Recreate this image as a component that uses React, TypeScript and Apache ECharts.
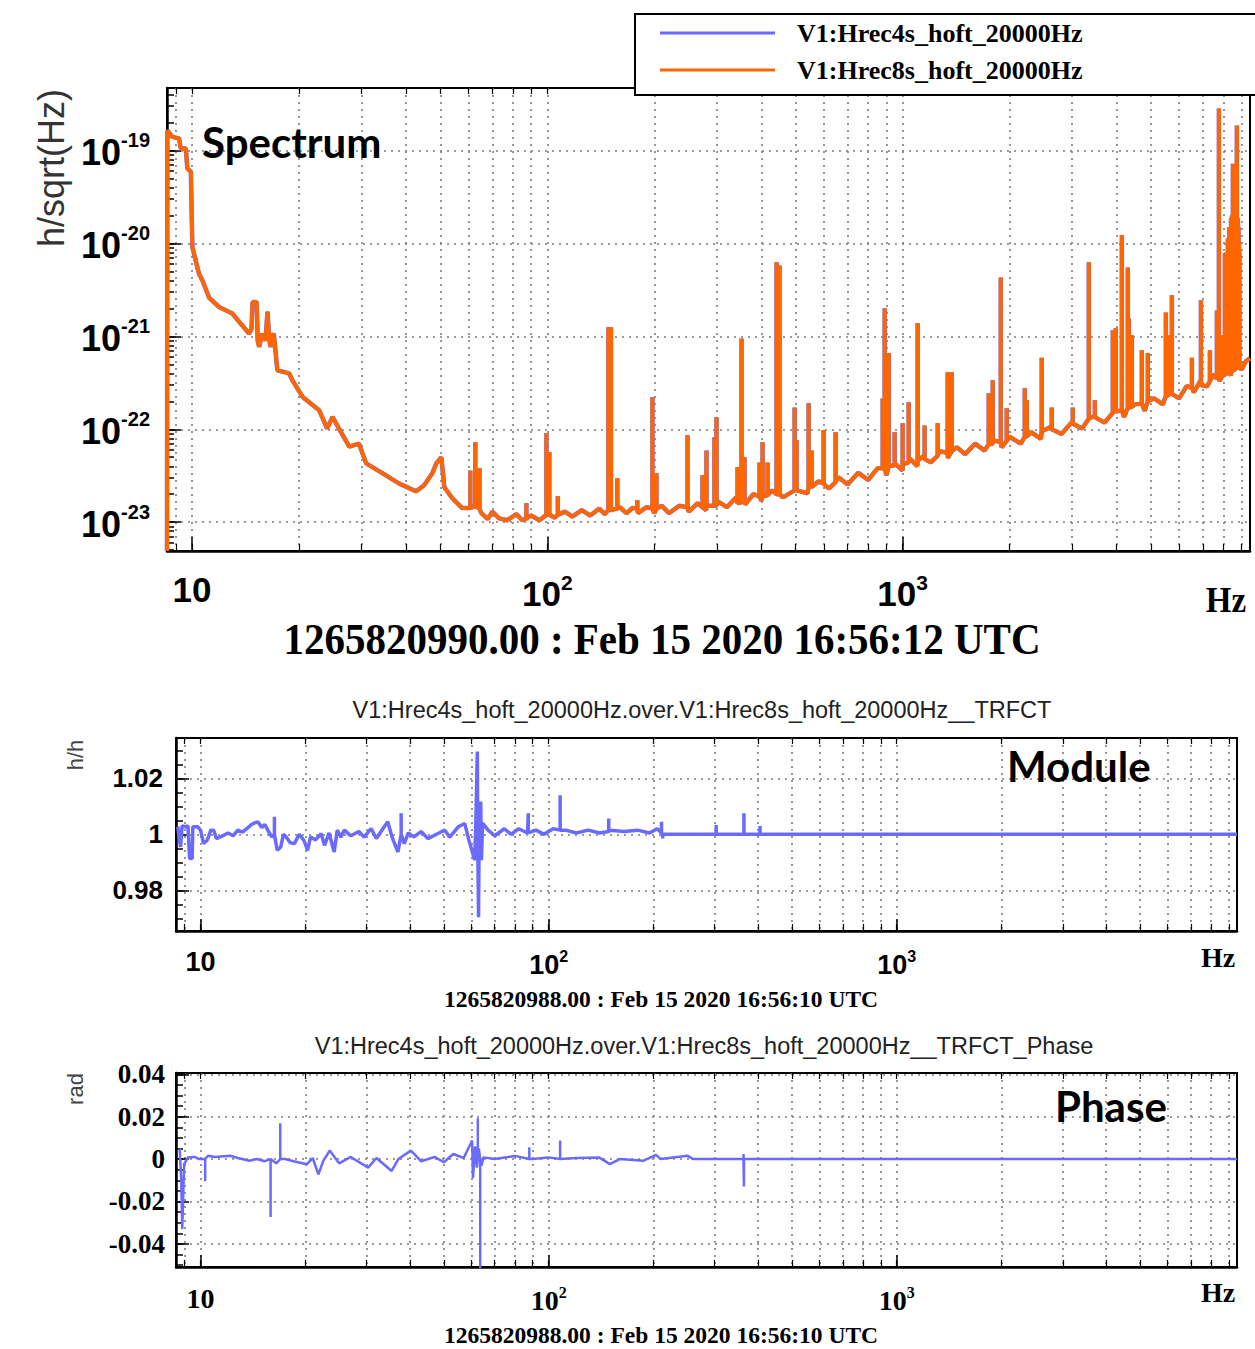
import React, { useEffect, useRef } from "react";
import * as echarts from "echarts";

// ---------- data ----------
const legendNames = ["V1:Hrec4s_hoft_20000Hz", "V1:Hrec8s_hoft_20000Hz"];

// noise floor of the 8 s spectrum: [frequency Hz, amplitude h/sqrt(Hz)]
const spectrumFloor8s: [number, number][] = [
  [8.5, 4.9e-24], [8.52, 1.64e-19], [8.8, 1.4e-19], [9.19, 1.35e-19], [9.29, 1.05e-19], [9.6, 1.05e-19],
  [9.7, 6.4e-20], [9.92, 5.9e-20], [10.02, 9.1e-21], [10.46, 4.7e-21], [10.69, 4.0e-21], [11.17, 2.6e-21],
  [11.91, 2.07e-21], [12.98, 1.76e-21], [14.47, 1.07e-21], [14.7, 1.2e-21], [14.8, 2.34e-21], [15.2, 2.34e-21],
  [15.3, 9e-22], [15.44, 7.7e-22], [15.77, 1.07e-21], [16.1, 9e-22], [16.3, 1.84e-21], [16.5, 9e-22],
  [16.64, 7.7e-22], [16.98, 1.08e-21], [17.38, 4.3e-22], [18.76, 4.0e-22], [19.16, 3.36e-22], [20.46, 2.23e-22],
  [22.79, 1.6e-22], [24.0, 1.02e-22], [24.85, 1.36e-22], [25.9, 1.02e-22], [27.7, 6.5e-23], [29.5, 7.0e-23],
  [30.9, 4.3e-23], [34.4, 3.35e-23], [38.3, 2.6e-23], [42.7, 2.15e-23], [45, 2.5e-23], [47.45, 3.36e-23],
  [48.7, 4.3e-23], [50.3, 5.0e-23], [51.3, 2.38e-23], [54.0, 1.81e-23], [57.6, 1.42e-23], [60.3, 1.42e-23],
  [65.2, 1.25e-23], [68, 1.08e-23], [70, 1.3e-23], [73.2, 1.1e-23], [77, 1.05e-23], [81.8, 1.22e-23],
  [85, 1.05e-23], [90, 1.18e-23], [95, 1.05e-23], [100, 1.3e-23], [105, 1.12e-23], [112, 1.3e-23],
  [117.6, 1.15e-23], [125, 1.35e-23], [132, 1.18e-23], [140, 1.4e-23], [145, 1.22e-23], [160, 1.45e-23],
  [167, 1.25e-23], [173.5, 1.42e-23], [180, 1.25e-23], [190, 1.45e-23], [200, 1.25e-23], [210, 1.5e-23],
  [220, 1.25e-23], [235, 1.5e-23], [250, 1.3e-23], [265, 1.6e-23], [280, 1.35e-23], [300, 1.7e-23],
  [320, 1.45e-23], [340, 1.85e-23], [360, 1.55e-23], [380, 2.0e-23], [400, 1.7e-23], [430, 2.2e-23],
  [460, 1.85e-23], [500, 2.45e-23], [540, 2.05e-23], [580, 2.75e-23], [620, 2.3e-23], [660, 3.05e-23],
  [700, 2.55e-23], [750, 3.4e-23], [800, 2.85e-23], [850, 3.8e-23], [900, 3.2e-23], [950, 4.3e-23],
  [1000, 3.6e-23], [1050, 4.8e-23], [1100, 4.0e-23], [1150, 5.2e-23], [1200, 4.4e-23], [1270, 5.8e-23],
  [1340, 4.9e-23], [1420, 6.4e-23], [1500, 5.4e-23], [1600, 7.0e-23], [1700, 5.9e-23], [1800, 7.6e-23],
  [1900, 6.4e-23], [2000, 8.3e-23], [2150, 7.0e-23], [2300, 9.3e-23], [2450, 7.9e-23], [2600, 1.05e-22],
  [2800, 8.9e-23], [3000, 1.2e-22], [3200, 1.02e-22], [3450, 1.38e-22], [3700, 1.18e-22], [3950, 1.6e-22],
  [4200, 1.36e-22], [4500, 1.85e-22], [4800, 1.58e-22], [5100, 2.15e-22], [5400, 1.85e-22], [5700, 2.5e-22],
  [6000, 2.15e-22], [6300, 2.9e-22], [6600, 2.5e-22], [6900, 3.35e-22], [7200, 2.9e-22], [7500, 3.9e-22],
  [7800, 3.3e-22], [8100, 4.4e-22], [8400, 3.8e-22], [8700, 5.0e-22], [9000, 4.4e-22], [9250, 5.4e-22],
  [9495, 5.8e-22],
];
// narrow lines of the 8 s spectrum: [frequency Hz, floor under the line, peak]
const spectrumLines8s: [number, number, number][] = [
  [60.7, 1.42e-23, 3.6e-23], [62.7, 1.5e-23, 7.25e-23], [64.4, 1.4e-23, 3.8e-23], [87.3, 1.1e-23, 1.6e-23],
  [99.4, 1.2e-23, 9.1e-23], [101.3, 1.2e-23, 5.7e-23], [107, 1.2e-23, 1.9e-23], [148.5, 1.35e-23, 1.25e-21],
  [151, 1.35e-23, 1.25e-21], [157.4, 1.4e-23, 2.97e-23], [179.2, 1.4e-23, 1.72e-23], [197.6, 1.4e-23, 2.21e-22],
  [202.8, 1.4e-23, 3.36e-23], [248.0, 1.45e-23, 8.6e-23], [273.3, 1.45e-23, 3.2e-23], [280.5, 1.5e-23, 5.9e-23],
  [295.4, 1.5e-23, 8.2e-23], [299.3, 1.5e-23, 1.35e-22], [343, 1.6e-23, 3.9e-23], [352, 1.65e-23, 9.5e-22],
  [358.9, 1.7e-23, 5.0e-23], [395.6, 1.9e-23, 4.4e-23], [403.4, 1.9e-23, 7.25e-23], [416.7, 1.95e-23, 4.4e-23],
  [441.7, 2.0e-23, 6.25e-21], [450.4, 2.0e-23, 5.8e-21], [496.5, 2.2e-23, 1.72e-22], [502.9, 2.2e-23, 7.6e-23],
  [543.6, 2.4e-23, 1.9e-22], [554.3, 2.4e-23, 5.9e-23], [599.2, 2.6e-23, 9.8e-23], [647.6, 2.7e-23, 9.3e-23],
  [878.6, 3.8e-23, 2.15e-22], [890, 3.9e-23, 2.0e-21], [913.5, 4.0e-23, 6.6e-22], [949.4, 4.1e-23, 9.3e-23],
  [1000, 4.2e-23, 1.16e-22], [1039.7, 4.4e-23, 1.95e-22], [1102, 4.6e-23, 1.38e-21], [1153, 4.8e-23, 1.1e-22],
  [1255, 5.2e-23, 1.16e-22], [1339, 5.6e-23, 4.1e-22], [1374, 5.8e-23, 4.1e-22], [1747, 6.9e-23, 2.44e-22],
  [1793, 7.0e-23, 3.36e-22], [1889, 7.3e-23, 4.3e-21], [1963, 7.5e-23, 1.68e-22], [2207, 8.3e-23, 2.76e-22],
  [2236, 8.4e-23, 2.05e-22], [2463, 9.5e-23, 5.9e-22], [2628, 1.0e-22, 1.72e-22], [3012, 1.15e-22, 1.72e-22],
  [3342, 1.3e-22, 6.25e-21], [3475, 1.35e-22, 2.05e-22], [3904, 1.5e-22, 1.16e-21], [3981, 1.55e-22, 1.22e-21],
  [4140, 1.6e-22, 1.22e-20], [4303, 1.7e-22, 5.5e-21], [4331, 1.7e-22, 1.56e-21], [4417, 1.75e-22, 1.03e-21],
  [4712, 1.9e-22, 7.1e-22], [4899, 2.0e-22, 6.6e-22], [5507, 2.3e-22, 1.81e-21], [5579, 2.3e-22, 1.03e-21],
  [5725, 2.4e-22, 2.76e-21], [6519, 2.8e-22, 5.9e-22], [6911, 3.0e-22, 2.44e-21], [7326, 3.3e-22, 7.1e-22],
  [7665, 3.5e-22, 1.9e-21], [7766, 3.6e-22, 2.83e-19], [7917, 3.7e-22, 1.03e-21], [8072, 3.9e-22, 7.8e-21],
  [8120, 4.0e-22, 8.0e-21], [8231, 4.0e-22, 1.13e-20], [8300, 4.1e-22, 1.5e-20], [8400, 4.2e-22, 1.86e-20],
  [8450, 4.2e-22, 2.0e-20], [8503, 4.3e-22, 7.2e-20], [8550, 4.3e-22, 3.0e-20], [8600, 4.4e-22, 2.0e-20],
  [8650, 4.4e-22, 2.5e-20], [8700, 4.5e-22, 4.0e-20], [8726, 4.5e-22, 1.86e-19], [8784, 4.6e-22, 1.86e-20],
  [8820, 4.6e-22, 1.5e-20], [8850, 4.7e-22, 1.0e-20], [8870, 4.7e-22, 8.0e-21],
];

// |h4s/h8s|: floor [frequency Hz, ratio] and narrow lines [frequency Hz, floor, peak]
const moduleFloor: [number, number][] = [
  [8.6, 1.0027], [8.7, 0.998], [8.76, 0.9955], [8.85, 1.003], [9.05, 1.0027], [9.2, 1.003], [9.3, 0.9914],
  [9.46, 0.9914], [9.5, 1.0027], [9.8, 1.0027], [10.0, 1.0015], [10.2, 0.9968], [10.45, 0.9979], [10.7, 1.0015],
  [10.9, 1.0015], [11.1, 0.9985], [11.4, 0.9991], [12.0, 1.0005], [12.4, 0.9995], [12.8, 1.0015], [13.2, 1.0008],
  [13.6, 1.0021], [14.0, 1.0035], [14.2, 1.0039], [14.6, 1.0045], [15.0, 1.0025], [15.3, 1.0035], [15.6, 1.0015],
  [16.0, 0.9991], [16.6, 0.9943], [17.0, 0.9955], [17.3, 1.0], [17.6, 0.9991], [18.1, 0.997], [18.6, 0.9967],
  [19.2, 1.0], [19.8, 0.9979], [20.3, 0.9943], [20.7, 0.9991], [21.4, 0.998], [22.2, 1.0003], [22.7, 0.9961],
  [23.4, 1.0005], [24.2, 0.9937], [24.7, 1.0015], [25.3, 0.999], [25.9, 1.0015], [27, 0.9995], [28.5, 1.001],
  [29.5, 0.999], [30.9, 1.0021], [32, 0.9985], [33.4, 1.002], [34.5, 1.0045], [35.5, 0.999], [36.9, 0.9937],
  [38.5, 0.9967], [39.5, 1.0005], [41, 0.9991], [43, 1.001], [45, 0.9985], [48.1, 1.0003], [50.3, 1.0015],
  [52, 0.999], [55.0, 1.0027], [57.4, 1.0039], [59, 0.998], [61.3, 0.9908], [61.8, 1.005], [62.4, 1.0296],
  [62.6, 0.994], [62.9, 0.9704], [63.2, 1.005], [63.8, 1.0117], [64.1, 0.9908], [64.6, 1.004], [67.0, 1.0015],
  [70, 0.9995], [74.6, 1.002], [78, 1.0], [82, 1.002], [87, 1.0005], [92, 1.0015], [97, 1.0], [103, 1.002],
  [112, 1.0015], [120, 1.0005], [130, 1.0015], [140, 1.0005], [150, 1.0015], [165, 1.001], [180, 1.0015],
  [195, 1.0005], [205, 1.002], [214, 1.0], [9500, 1.0],
];
const moduleLines: [number, number, number][] = [
  [16.3, 1.0, 1.0063], [37.7, 1.0, 1.0075], [87.4, 1.0005, 1.0075], [107.9, 1.0015, 1.014], [148.8, 1.001, 1.0057],
  [211, 1.0005, 1.0045], [212.6, 1.0, 0.9985], [303, 1.0, 1.0033], [364, 1.0, 1.0075], [405, 1.0, 1.003],
];

// phase (rad): floor and narrow lines
const phaseFloor: [number, number][] = [
  [8.71, 0.0048], [8.8, -0.01], [8.86, -0.033], [8.97, -0.0024], [9.2, 0.0008], [9.6, 0.001], [9.93, 0.0],
  [10.5, 0.0016], [11, 0.001], [12.17, 0.0016], [12.8, 0.0005], [13.83, -0.0008], [14.5, 0.0], [15.3, -0.001],
  [16.5, -0.002], [17.5, 0.0], [18.5, -0.001], [20.2, -0.0024], [21.0, 0.0005], [21.8, -0.0072], [22.5, -0.001],
  [23.5, 0.004], [25, -0.002], [27, 0.001], [30.3, -0.004], [32, 0.0005], [35.4, -0.0056], [37, 0.0],
  [40.2, 0.004], [43, -0.001], [47, 0.001], [50, -0.0015], [53.2, 0.0024], [57, 0.0005], [60.3, 0.0088],
  [60.6, -0.0089], [61.5, 0.006], [62.2, -0.004], [63.0, 0.005], [64.2, -0.003], [64.9, 0.0008], [70, 0.0],
  [80, 0.0015], [90, 0.0], [100, 0.0008], [120, 0.0005], [139.5, 0.0008], [150.0, -0.0024], [160, 0.0],
  [187.0, -0.0008], [203.4, 0.002], [210, 0.0], [250.4, 0.0016], [260, 0.0], [9500, 0.0],
];
const phaseLines: [number, number, number][] = [
  [10.31, 0.0, -0.0105], [15.89, 0.0, -0.0273], [16.94, 0.0, 0.0169], [62.6, 0.0, 0.0193], [63.6, 0.0, -0.06],
  [88, 0.0, 0.0056], [107.9, 0.0, 0.0088], [363, 0.0, 0.0024], [364, 0.0, -0.0129],
];

// axis ranges and ticks
const freqRange = [8.5, 9500];
const ampRange = [4.9e-24, 4.7e-19];
const moduleRange = [0.9655, 1.0344];
const phaseRange = [-0.0509, 0.0406];
const freqDecadeExps = [1, 2, 3];
const freqMinorHz = [9, 10, 20, 30, 40, 50, 60, 70, 80, 90, 100, 200, 300, 400, 500, 600, 700, 800, 900,
  1000, 2000, 3000, 4000, 5000, 6000, 7000, 8000, 9000];
const ampDecadeExps = [-23, -22, -21, -20, -19];
const ampMantissas = [1, 2, 3, 4, 5, 6, 7, 8, 9];
const ampExpRange = [-24, -23, -22, -21, -20, -19];
const moduleLabels = [0.98, 1, 1.02];
const moduleMinor = [0.97, 0.975, 0.98, 0.985, 0.99, 0.995, 1, 1.005, 1.01, 1.015, 1.02, 1.025, 1.03];
const phaseLabels = [-0.04, -0.02, 0, 0.02, 0.04];
const phaseMinor = [-0.05, -0.045, -0.04, -0.035, -0.03, -0.025, -0.02, -0.015, -0.01, -0.005, 0, 0.005, 0.01,
  0.015, 0.02, 0.025, 0.03, 0.035, 0.04];

// ---------- option ----------
const lg = Math.log10;
const X0 = lg(freqRange[0]);
const X1 = lg(freqRange[1]);
const freqMinorLog = freqMinorHz.map((f) => lg(f));
const ampMinorLog: number[] = [];
ampExpRange.forEach((e) => ampMantissas.forEach((m) => {
  const v = e + lg(m);
  if (v > lg(ampRange[0]) && v < lg(ampRange[1])) ampMinorLog.push(v);
}));

// floor points plus vertical lines (floor -> peak -> floor at the same frequency), in frequency order
function withLines(floor: [number, number][], lines: [number, number, number][]): [number, number][] {
  const items: { f: number; seq: [number, number][] }[] = floor.map(([f, v]) => ({ f, seq: [[f, v]] }));
  lines.forEach(([f, b, p]) => items.push({ f, seq: [[f, b], [f, p], [f, b]] }));
  items.sort((a, b) => a.f - b.f);
  const out: [number, number][] = [];
  items.forEach((it) => it.seq.forEach((s) => out.push(s)));
  return out;
}
const spectrum8s = withLines(spectrumFloor8s, spectrumLines8s);
const spectrum4s = spectrum8s; // the 4 s reconstruction lies under the 8 s one almost everywhere
const moduleRatio = withLines(moduleFloor, moduleLines);
const phaseRad = withLines(phaseFloor, phaseLines);

const SANS = "Liberation Sans";
const SERIF = "Liberation Serif";
const dotted = { color: "#7c7c7c", width: 1.6, type: [2, 5] as any };
const black = "#000";

function powLabelRich(family: string, big: number, small: number, raise: number) {
  return {
    b: { fontFamily: family, fontWeight: "bold", fontSize: big, color: black, verticalAlign: "bottom" },
    s: { fontFamily: family, fontWeight: "bold", fontSize: small, color: black, verticalAlign: "bottom", padding: [0, 0, raise, 0] },
  };
}

function mainX(gridIndex: number, family: string, big: number, small: number, raise: number, margin: number, tickLen: number) {
  return {
    type: "value", gridIndex, position: "bottom", min: X0, max: X1,
    axisLine: { show: true, onZero: false, lineStyle: { color: black, width: 2.5 } },
    axisTick: { show: true, inside: true, length: tickLen, customValues: freqDecadeExps, lineStyle: { color: black, width: 1.5 } },
    axisLabel: {
      show: true, customValues: freqDecadeExps, margin,
      formatter: (v: number) => (Math.round(v) === 1 ? "{b|10}" : `{b|10}{s|${Math.round(v)}}`),
      rich: powLabelRich(family, big, small, raise),
    },
    splitLine: { show: false },
  };
}
function minorX(gridIndex: number) {
  return {
    type: "value", gridIndex, position: "bottom", min: X0, max: X1,
    axisLine: { show: false, onZero: false },
    axisTick: { show: true, inside: true, length: 7, customValues: freqMinorLog, lineStyle: { color: black, width: 1.2 } },
    axisLabel: { show: false },
    splitLine: { show: true, lineStyle: dotted },
  };
}
function topX(gridIndex: number) {
  return {
    type: "value", gridIndex, position: "top", min: X0, max: X1,
    axisLine: { show: false, onZero: false },
    axisTick: { show: true, inside: true, length: 6, customValues: freqMinorLog, lineStyle: { color: black, width: 1.2 } },
    axisLabel: { show: false },
    splitLine: { show: false },
  };
}
function minorY(gridIndex: number, min: number, max: number, ticks: number[]) {
  return {
    type: "value", gridIndex, position: "left", min, max,
    axisLine: { show: false, onZero: false },
    axisTick: { show: true, inside: true, length: 7, customValues: ticks, lineStyle: { color: black, width: 1.5 } },
    axisLabel: { show: false },
    splitLine: { show: false },
  };
}

const grids = [
  { left: 167, top: 88, width: 1083, height: 463 },
  { left: 176, top: 738, width: 1061, height: 193 },
  { left: 176, top: 1073, width: 1061, height: 194 },
].map((g) => ({ ...g, show: true, borderColor: black, borderWidth: 2, backgroundColor: "transparent", containLabel: false, outerBoundsMode: "none" }));

function txt(x: number, y: number, text: string, font: string, fill = black, align = "center", extra: any = {}) {
  return {
    type: "text", x, y, z: 50, ...extra,
    style: { text, font, fill, align, textAlign: align, verticalAlign: "middle", textVerticalAlign: "middle" },
  };
}

const option: any = {
  animation: false,
  backgroundColor: "#fff",
  textStyle: { fontFamily: SANS },
  grid: grids,
  legend: {
    data: legendNames, left: 635, top: 14, orient: "vertical", selectedMode: false,
    icon: "rect", itemWidth: 115, itemHeight: 3, itemGap: 9,
    padding: [5, 220, 11, 25],
    borderColor: black, borderWidth: 2, backgroundColor: "#fff",
    textStyle: { fontFamily: SERIF, fontWeight: "bold", fontSize: 26, color: black, lineHeight: 28, padding: [0, 0, 0, 17] },
    z: 20,
  },
  xAxis: [
    mainX(0, SANS, 35, 21, 18, 21, 14), minorX(0), topX(0),
    mainX(1, SANS, 27, 16, 14, 17, 12), minorX(1), topX(1),
    mainX(2, SERIF, 28, 16, 14, 17, 12), minorX(2), topX(2),
  ],
  yAxis: [
    {
      type: "value", gridIndex: 0, position: "left", min: lg(ampRange[0]), max: lg(ampRange[1]),
      axisLine: { show: true, onZero: false, lineStyle: { color: black, width: 2.5 } },
      axisTick: { show: true, inside: true, length: 14, customValues: ampDecadeExps, lineStyle: { color: black, width: 1.5 } },
      axisLabel: {
        show: true, customValues: ampDecadeExps, margin: 17,
        formatter: (v: number) => `{b|10}{s|${Math.round(v)}}`,
        rich: powLabelRich(SANS, 36, 20, 20),
      },
      splitLine: { show: true, lineStyle: dotted },
    },
    minorY(0, lg(ampRange[0]), lg(ampRange[1]), ampMinorLog),
    {
      type: "value", gridIndex: 1, position: "left", min: moduleRange[0], max: moduleRange[1],
      axisLine: { show: true, onZero: false, lineStyle: { color: black, width: 2.5 } },
      axisTick: { show: true, inside: true, length: 13, customValues: moduleLabels, lineStyle: { color: black, width: 1.5 } },
      axisLabel: {
        show: true, customValues: moduleLabels, margin: 13,
        formatter: (v: number) => (Math.abs(v - 1) < 1e-9 ? "1" : v.toFixed(2)),
        fontFamily: SANS, fontWeight: "bold", fontSize: 26, color: black,
      },
      splitLine: { show: true, lineStyle: dotted },
    },
    minorY(1, moduleRange[0], moduleRange[1], moduleMinor),
    {
      type: "value", gridIndex: 2, position: "left", min: phaseRange[0], max: phaseRange[1],
      axisLine: { show: true, onZero: false, lineStyle: { color: black, width: 2.5 } },
      axisTick: { show: true, inside: true, length: 13, customValues: phaseLabels, lineStyle: { color: black, width: 1.5 } },
      axisLabel: {
        show: true, customValues: phaseLabels, margin: 11,
        formatter: (v: number) => (Math.abs(v) < 1e-9 ? "0" : v.toFixed(2)),
        fontFamily: SERIF, fontWeight: "bold", fontSize: 27, color: black,
      },
      splitLine: { show: true, lineStyle: dotted },
    },
    minorY(2, phaseRange[0], phaseRange[1], phaseMinor),
  ],
  series: [
    {
      name: legendNames[0], type: "line", xAxisIndex: 0, yAxisIndex: 0, showSymbol: false, symbol: "none", z: 3,
      data: spectrum4s.map(([f, a]) => [lg(f), lg(a)]),
      lineStyle: { color: "#6a6aff", width: 4.5 }, itemStyle: { color: "#6a6aff" },
    },
    {
      name: legendNames[1], type: "line", xAxisIndex: 0, yAxisIndex: 0, showSymbol: false, symbol: "none", z: 4,
      data: spectrum8s.map(([f, a]) => [lg(f), lg(a)]),
      lineStyle: { color: "#ff6600", width: 4 }, itemStyle: { color: "#ff6600" },
    },
    {
      name: "TRFCT", type: "line", xAxisIndex: 3, yAxisIndex: 2, showSymbol: false, symbol: "none", z: 3,
      data: moduleRatio.map(([f, v]) => [lg(f), v]),
      lineStyle: { color: "#6a6aff", width: 3.5 }, itemStyle: { color: "#6a6aff" },
    },
    {
      name: "TRFCT_Phase", type: "line", xAxisIndex: 6, yAxisIndex: 4, showSymbol: false, symbol: "none", z: 3,
      data: phaseRad.map(([f, v]) => [lg(f), v]),
      lineStyle: { color: "#6a6aff", width: 2.5 }, itemStyle: { color: "#6a6aff" },
    },
  ],
  graphic: [
    txt(51, 168, "h/sqrt(Hz)", `36px "${SANS}"`, "#333", "center", { rotation: Math.PI / 2 }),
    txt(202, 142, "Spectrum", "bold 42px Lato", black, "left"),
    txt(1226, 600, "Hz", `bold 33px "${SERIF}"`, black, "center", { scaleY: 1.1 }),
    txt(662, 639, "1265820990.00 : Feb 15 2020 16:56:12 UTC", `bold 41px "${SERIF}"`, black, "center", { scaleY: 1.1 }),
    txt(702, 710, "V1:Hrec4s_hoft_20000Hz.over.V1:Hrec8s_hoft_20000Hz__TRFCT", `23.5px "${SANS}"`, "#222"),
    txt(75, 755, "h/h", `22px "${SANS}"`, "#444", "center", { rotation: Math.PI / 2 }),
    txt(1007, 766, "Module", "bold 42px Lato", black, "left"),
    txt(1218, 957, "Hz", `bold 28px "${SERIF}"`, black),
    txt(661, 999, "1265820988.00 : Feb 15 2020 16:56:10 UTC", `bold 23.5px "${SERIF}"`, black),
    txt(704, 1046, "V1:Hrec4s_hoft_20000Hz.over.V1:Hrec8s_hoft_20000Hz__TRFCT_Phase", `23.5px "${SANS}"`, "#222"),
    txt(75, 1089, "rad", `22px "${SANS}"`, "#444", "center", { rotation: Math.PI / 2 }),
    txt(1055, 1106, "Phase", "bold 42px Lato", black, "left"),
    txt(1218, 1292, "Hz", `bold 28px "${SERIF}"`, black),
    txt(661, 1335, "1265820988.00 : Feb 15 2020 16:56:10 UTC", `bold 23.5px "${SERIF}"`, black),
  ],
};

export default function App() {
  const ref = useRef<HTMLDivElement>(null);
  useEffect(() => {
    if (!ref.current) return;
    const chart = echarts.init(ref.current, null, { renderer: "svg", width: 1255, height: 1349 });
    chart.setOption(option);
    return () => chart.dispose();
  }, []);
  return (
    <div
      ref={ref}
      style={{ position: "absolute", left: 0, top: 0, width: 1255, height: 1349, background: "#fff" }}
    />
  );
}
